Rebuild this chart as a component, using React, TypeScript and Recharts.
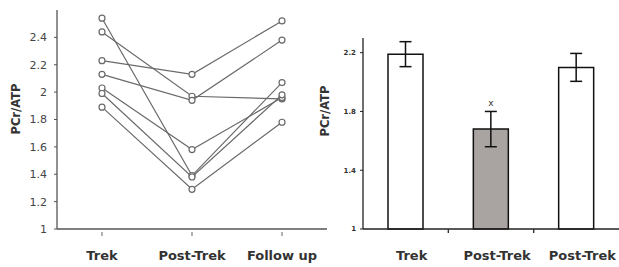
import React from "react";
import {
  Bar,
  BarChart,
  Cell,
  ErrorBar,
  Line,
  LineChart,
  ReferenceDot,
  XAxis,
  YAxis,
} from "recharts";

// individual subjects, one value per phase
const phases = ["Trek", "Post-Trek", "Follow up"];
const subject1 = [2.54, 1.39, 2.07];
const subject2 = [2.44, 1.97, 1.95];
const subject3 = [2.23, 2.13, 2.52];
const subject4 = [2.13, 1.94, 2.38];
const subject5 = [2.03, 1.58, 1.96];
const subject6 = [1.99, 1.38, 1.98];
const subject7 = [1.89, 1.29, 1.78];
const subjects = [subject1, subject2, subject3, subject4, subject5, subject6, subject7];
const lineTicks = [1, 1.2, 1.4, 1.6, 1.8, 2, 2.2, 2.4];

// group means
const barLabels = ["Trek", "Post-Trek", "Post-Trek"];
const barPositions = [0.5, 1.5, 2.5];
const barMeans = [2.19, 1.68, 2.1];
const barErrors = [0.085, 0.12, 0.095];
const barTicks = [1, 1.4, 1.8, 2.2];
const sigMark = { pos: 1.5, value: 1.86, text: "x" };

const lineData = phases.map((phase, i) => {
  const row: Record<string, string | number> = { phase };
  subjects.forEach((s, j) => {
    row[`s${j + 1}`] = s[i];
  });
  return row;
});

const barData = barLabels.map((label, i) => ({
  label,
  pos: barPositions[i],
  mean: barMeans[i],
  err: barErrors[i],
}));

const barFills = ["#ffffff", "#a9a4a1", "#ffffff"];
const font = "'DejaVu Sans', Verdana, sans-serif";
const gray = "#555";

function YLabel({ x, y, text, size }: { x: number; y: number; text: string; size: number }) {
  return (
    <text
      x={x}
      y={y}
      transform={`rotate(-90, ${x}, ${y})`}
      textAnchor="middle"
      dominantBaseline="central"
      fontFamily={font}
      fontWeight="bold"
      fontSize={size}
      fill="#333"
    >
      {text}
    </text>
  );
}

function LineTick(props: any) {
  const { x, y, payload } = props;
  return (
    <g>
      <line x1={x} x2={x} y1={y + 3} y2={y + 7} stroke="#888" strokeWidth={1.3} />
      <text x={x} y={y + 31} textAnchor="middle" fontFamily={font} fontWeight="bold" fontSize={13} fill="#333">
        {payload.value}
      </text>
    </g>
  );
}

function BarTick(props: any) {
  const { x, y, payload } = props;
  const v = payload.value as number;
  if (Number.isInteger(v)) {
    return <line x1={x} x2={x} y1={y} y2={y + 4} stroke="#333" strokeWidth={1.4} />;
  }
  const idx = barPositions.indexOf(v);
  return (
    <text
      x={x + 6}
      y={y + 31}
      textAnchor="middle"
      fontFamily={font}
      fontWeight="bold"
      fontSize={13}
      fill="#333"
    >
      {barLabels[idx]}
    </text>
  );
}

export default function App() {
  return (
    <div style={{ position: "absolute", left: 0, top: 0, width: 619, height: 267, background: "#fff" }}>
      <div style={{ position: "absolute", left: 0, top: 0 }}>
        <LineChart width={327} height={267} data={lineData} margin={{ top: 10, right: 0, left: 0, bottom: 0 }}>
          <XAxis
            dataKey="phase"
            padding={{ left: 45, right: 45 }}
            axisLine={{ stroke: gray, strokeWidth: 1.3 }}
            tickLine={false}
            tickSize={0}
            tickMargin={0}
            height={38}
            interval={0}
            tick={<LineTick />}
          />
          <YAxis
            domain={[1, 2.6]}
            ticks={lineTicks}
            width={57}
            axisLine={{ stroke: gray, strokeWidth: 1.3 }}
            tickLine={{ stroke: gray }}
            tickSize={3}
            tickMargin={7}
            tick={{ fontFamily: font, fontSize: 11, fill: "#444" }}
            label={{ content: () => <YLabel x={16} y={109} text="PCr/ATP" size={11.5} /> }}
          />
          {subjects.map((_, j) => (
            <Line
              key={j}
              type="linear"
              dataKey={`s${j + 1}`}
              stroke="#6a6a6a"
              strokeWidth={1.2}
              dot={{ r: 3, stroke: "#6a6a6a", strokeWidth: 1.2, fill: "#fff" }}
              isAnimationActive={false}
            />
          ))}
        </LineChart>
      </div>
      <div style={{ position: "absolute", left: 300, top: 0 }}>
        <BarChart width={319} height={267} data={barData} margin={{ top: 38, right: 0, left: 0, bottom: 0 }}>
          <XAxis
            dataKey="pos"
            type="number"
            domain={[0, 3]}
            ticks={[0.5, 1, 1.5, 2, 2.5]}
            interval={0}
            axisLine={{ stroke: "#222", strokeWidth: 1.6 }}
            tickLine={false}
            tickSize={0}
            tickMargin={0}
            height={38}
            tick={<BarTick />}
          />
          <YAxis
            domain={[1, 2.3]}
            ticks={barTicks}
            width={63}
            axisLine={{ stroke: "#222", strokeWidth: 1.3 }}
            tickLine={{ stroke: "#222" }}
            tickSize={3}
            tickMargin={4}
            tick={{ fontFamily: font, fontWeight: "bold", fontSize: 7, fill: "#333" }}
            label={{ content: () => <YLabel x={25} y={111} text="PCr/ATP" size={11.5} /> }}
          />
          <Bar dataKey="mean" barSize={35} stroke="#111" strokeWidth={1.5} isAnimationActive={false}>
            {barData.map((_, i) => (
              <Cell key={i} fill={barFills[i]} />
            ))}
            <ErrorBar dataKey="err" width={6} stroke="#111" strokeWidth={1.5} />
          </Bar>
          <ReferenceDot
            x={sigMark.pos}
            y={sigMark.value}
            r={0}
            label={{ value: sigMark.text, position: "center", fontFamily: font, fontSize: 9, fill: "#333" }}
          />
        </BarChart>
      </div>
    </div>
  );
}
